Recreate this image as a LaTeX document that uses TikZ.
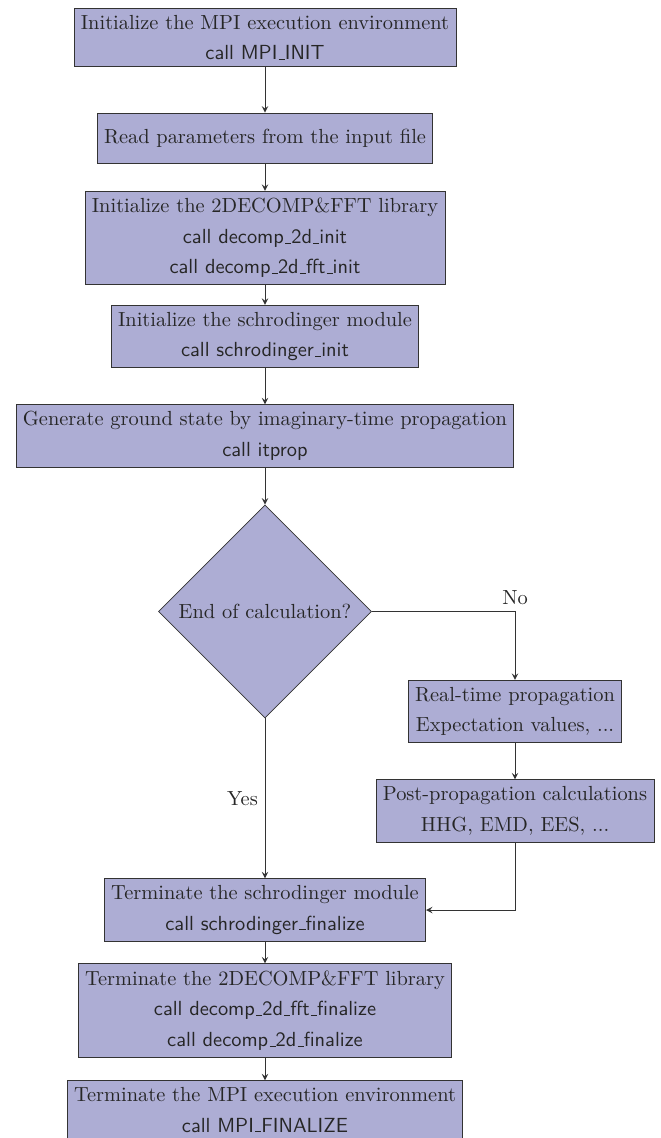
\documentclass[tikz,border=0pt]{standalone}
\usepackage{tikz}
\usetikzlibrary{arrows,shapes.geometric}
\usetikzlibrary{positioning}

\definecolor{boxfill}{RGB}{173,173,212}
\tikzset{
	proc/.style={draw=black!80, fill=boxfill, align=center, minimum height=24.5pt, font=\fontsize{10}{15}\selectfont},
	decision/.style={diamond, draw=black!80, fill=boxfill, minimum size=104.4pt, inner sep=0pt},
	flow/.style={draw=black!80, ->, >=stealth}
}
\newcommand{\callsf}[1]{\textsf{call #1}}
\newcommand{\uscore}{\leavevmode\kern.06em\vbox{\hrule width.3em}}

\begin{document}
\begin{tikzpicture}[x=0.49pt, y=-0.49pt, text=black!85]

					\useasboundingbox (0,0) rectangle (660,1138);
					% main column
					\node[proc] (mpiinit) at (265,37.5) {Initialize the MPI execution environment\\ \callsf{MPI\uscore INIT}};
					\node[proc] (readpar) at (265,138) {Read parameters from the input file};
					\node[proc] (decompinit) at (265,238) {Initialize the 2DECOMP\&FFT library\\ \callsf{decomp\uscore 2d\uscore init}\\ \callsf{decomp\uscore 2d\uscore fft\uscore init}};
					\node[proc] (schinit) at (265,336.5) {Initialize the schrodinger module\\ \callsf{schrodinger\uscore init}};
					\node[proc] (itprop) at (265,436) {Generate ground state by imaginary-time propagation\\ \callsf{itprop}};
					\node[decision] (endcalc) at (265,611.5) {End of calculation?};
					\node[proc] (schfin) at (265,910) {Terminate the schrodinger module\\ \callsf{schrodinger\uscore finalize}};
					\node[proc] (decompfin) at (265,1010.5) {Terminate the 2DECOMP\&FFT library\\ \callsf{decomp\uscore 2d\uscore fft\uscore finalize}\\ \callsf{decomp\uscore 2d\uscore finalize}};
					\node[proc] (mpifin) at (265,1110) {Terminate the MPI execution environment\\ \callsf{MPI\uscore FINALIZE}};
					% right column
					\node[proc] (rtprop) at (515,711.5) {Real-time propagation\\ Expectation values, ...};
					\node[proc] (postprop) at (515,811) {Post-propagation calculations\\ HHG, EMD, EES, ...};

					\draw[flow] (mpiinit) -- (readpar);
					\draw[flow] (readpar) -- (decompinit);
					\draw[flow] (decompinit) -- (schinit);
					\draw[flow] (schinit) -- (itprop);
					\draw[flow] (itprop) -- (endcalc);
					\draw[flow] (endcalc.east) -| node[pos=0.5, above] {No} (rtprop.north);
					\draw[flow] (rtprop) -- (postprop);
					\draw[flow] (postprop.south) |- (schfin.east);
					\draw[flow] (endcalc.south) -- node[left] {Yes} (schfin.north);
					\draw[flow] (schfin) -- (decompfin);
					\draw[flow] (decompfin) -- (mpifin);
				\end{tikzpicture}
\end{document}
